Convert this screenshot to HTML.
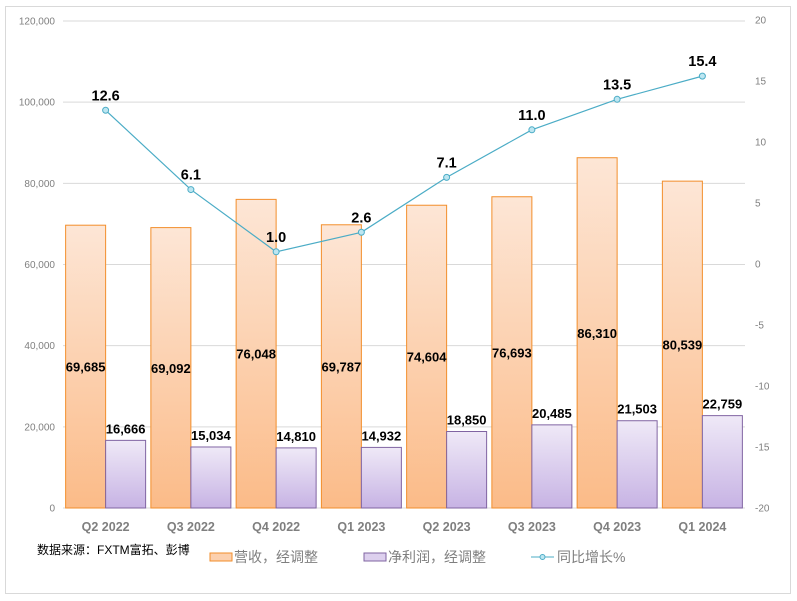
<!DOCTYPE html>
<html><head><meta charset="utf-8"><style>
html,body{margin:0;padding:0;background:#fff;}
svg{display:block;font-family:"Liberation Sans","Noto Sans CJK SC",sans-serif;}
</style></head><body>
<svg id="c" width="797" height="601" viewBox="0 0 797 601" xmlns="http://www.w3.org/2000/svg">
<defs>
<linearGradient id="go" x1="0" y1="0" x2="0" y2="1"><stop offset="0" stop-color="#fde6d6"/><stop offset="1" stop-color="#fbbb88"/></linearGradient>
<linearGradient id="gp" x1="0" y1="0" x2="0" y2="1"><stop offset="0" stop-color="#efe9f7"/><stop offset="1" stop-color="#c7b3e4"/></linearGradient>
</defs>
<rect x="5.5" y="6.5" width="785" height="587" fill="#fff" stroke="#d9d9d9"/>
<g id="g"></g>
</svg>
<script>
var g=document.getElementById('g'),s='';
var rev=[69685,69092,76048,69787,74604,76693,86310,80539];
var net=[16666,15034,14810,14932,18850,20485,21503,22759];
var yoy=[12.6,6.1,1.0,2.6,7.1,11.0,13.5,15.4];
var cats=['Q2 2022','Q3 2022','Q4 2022','Q1 2023','Q2 2023','Q3 2023','Q4 2023','Q1 2024'];
function yl(v){return 508-v*487/120000;}
function yr(v){return 264-v*12.2;}
function f(n){return n.toString().replace(/\B(?=(\d{3})+(?!\d))/g,',');}
for(var i=0;i<=6;i++){var v=i*20000,y=yl(v);
 s+='<line x1="63" x2="745" y1="'+y+'" y2="'+y+'" stroke="#d9d9d9"/>';
 s+='<text x="55" y="'+(y+3.5)+'" text-anchor="end" font-size="10" fill="#7f7f7f">'+f(v)+'</text>';}
for(var v=-20;v<=20;v+=5){s+='<text x="755" y="'+(yr(v)+3.5)+'" font-size="10" fill="#7f7f7f">'+v+'</text>';}
var pts=[];
for(var i=0;i<8;i++){var cx=63+85.25*(i+0.5);
 var t=yl(rev[i]);s+='<rect x="'+(cx-40)+'" y="'+t+'" width="40" height="'+(508-t)+'" fill="url(#go)" stroke="#f28e2b" stroke-width="1"/>';
 var p=yl(net[i]);s+='<rect x="'+cx+'" y="'+p+'" width="40" height="'+(508-p)+'" fill="url(#gp)" stroke="#8064a2" stroke-width="1"/>';
 s+='<text x="'+(cx-20)+'" y="'+((t+508)/2+5)+'" text-anchor="middle" font-size="13" font-weight="bold">'+f(rev[i])+'</text>';
 s+='<text x="'+(cx+20)+'" y="'+(p-7)+'" text-anchor="middle" font-size="13" font-weight="bold">'+f(net[i])+'</text>';
 s+='<text x="'+cx+'" y="531" text-anchor="middle" font-size="12.5" font-weight="bold" fill="#7f7f7f">'+cats[i]+'</text>';
 pts.push([cx,yr(yoy[i])]);}
s+='<polyline fill="none" stroke="#4bacc6" stroke-width="1.2" points="'+pts.map(function(p){return p.join(',')}).join(' ')+'"/>';
for(var i=0;i<8;i++){s+='<circle cx="'+pts[i][0]+'" cy="'+pts[i][1]+'" r="3" fill="#bde6f1" stroke="#4bacc6"/>';
 s+='<text x="'+pts[i][0]+'" y="'+(pts[i][1]-10)+'" text-anchor="middle" font-size="14.5" font-weight="bold">'+yoy[i].toFixed(1)+'</text>';}
s+='<text x="37" y="554" font-size="12">数据来源：FXTM富拓、彭博</text>';
s+='<rect x="210" y="553" width="22" height="8" fill="#fcd0ae" stroke="#f28e2b"/><text x="234" y="562" font-size="14" fill="#7f7f7f">营收，经调整</text>';
s+='<rect x="364" y="553" width="22" height="8" fill="#ddd0ee" stroke="#8064a2"/><text x="388" y="562" font-size="14" fill="#7f7f7f">净利润，经调整</text>';
s+='<line x1="531" x2="554" y1="557" y2="557" stroke="#4bacc6"/><circle cx="542.5" cy="557" r="2.5" fill="#bde6f1" stroke="#4bacc6"/><text x="557" y="562" font-size="14" fill="#7f7f7f">同比增长%</text>';
g.innerHTML=s;
</script>
</body></html>
